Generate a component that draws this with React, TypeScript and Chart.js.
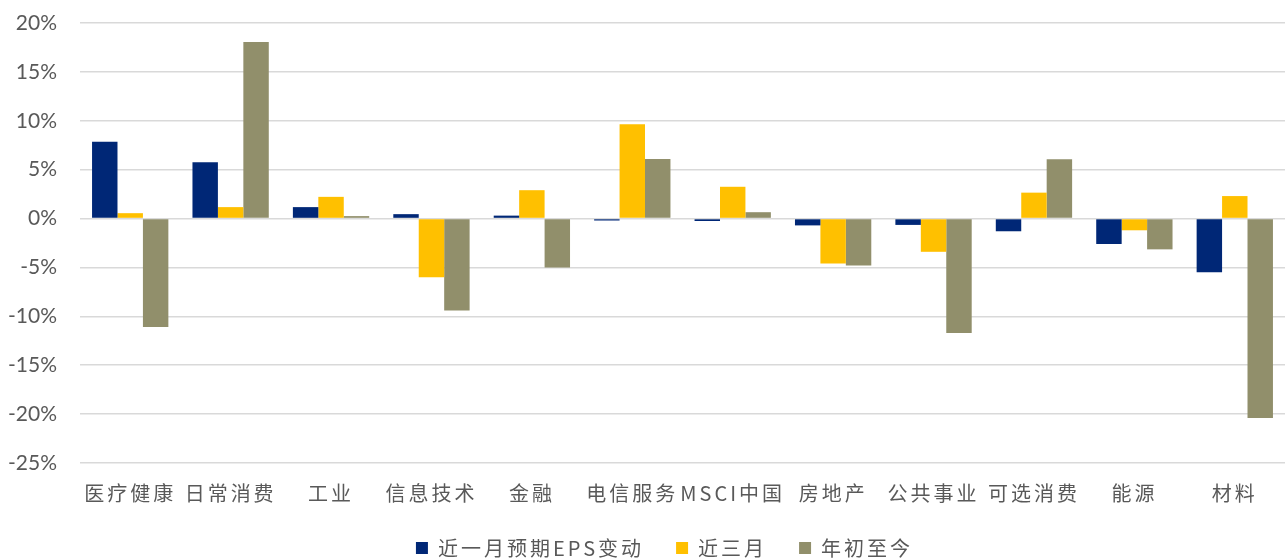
import React, { useEffect, useRef } from "react";
import { Chart, registerables } from "chart.js";

Chart.register(...registerables);

// Sector names along the x axis
const categories: string[] = [
  "医疗健康",
  "日常消费",
  "工业",
  "信息技术",
  "金融",
  "电信服务",
  "MSCI中国",
  "房地产",
  "公共事业",
  "可选消费",
  "能源",
  "材料",
];

// EPS forecast changes, in percent
const lastMonth: number[] = [7.85, 5.77, 1.17, 0.45, 0.3, -0.2, -0.25, -0.7, -0.65, -1.3, -2.6, -5.5];
const lastThreeMonths: number[] = [0.55, 1.17, 2.22, -6.0, 2.9, 9.65, 3.25, -4.6, -3.4, 2.65, -1.2, 2.3];
const yearToDate: number[] = [-11.1, 18.05, 0.25, -9.4, -5.0, 6.1, 0.65, -4.8, -11.7, 6.07, -3.15, -20.4];

const seriesNames: string[] = ["近一月预期EPS变动", "近三月", "年初至今"];

const yMin = -25;
const yMax = 20;
const yStep = 5;

const colors = ["#002776", "#FFC000", "#918F6B"];
const textColor = "#595959";
const gridColor = "#D9D9D9";
const cjkFont = "'Noto Sans CJK SC', 'Noto Sans', sans-serif";
const numFont = "Lato, 'Noto Sans', sans-serif";
const cjkSpacing = "3px";
const legendShift = 22;

export default function App() {
  const canvasRef = useRef<HTMLCanvasElement | null>(null);

  useEffect(() => {
    document.body.style.margin = "0";
    const canvas = canvasRef.current;
    if (!canvas) return;

    const series = [lastMonth, lastThreeMonths, yearToDate];
    const chart = new Chart(canvas, {
      type: "bar",
      data: {
        labels: categories,
        datasets: series.map((values, i) => ({
          label: seriesNames[i],
          data: values,
          backgroundColor: colors[i],
          borderWidth: 0,
          categoryPercentage: 0.76,
          barPercentage: 1,
        })),
      },
      options: {
        responsive: false,
        animation: false,
        maintainAspectRatio: false,
        layout: { padding: { top: 23, right: 0, bottom: 0, left: 0 } },
        plugins: {
          tooltip: { enabled: false },
          legend: {
            position: "bottom",
            labels: {
              color: textColor,
              font: { family: cjkFont, size: 20 },
              boxWidth: 12,
              boxHeight: 12,
              padding: 32,
            },
          },
        },
        scales: {
          x: {
            afterFit: (scale: any) => {
              scale.height = 43;
            },
            grid: { display: false, drawTicks: false },
            border: { display: false },
            ticks: {
              color: textColor,
              font: { family: cjkFont, size: 20 },
              padding: 18,
              autoSkip: false,
              maxRotation: 0,
              minRotation: 0,
            },
          },
          y: {
            min: yMin,
            max: yMax,
            afterFit: (scale: any) => {
              scale.width = 80;
              scale.paddingTop = 0;
              scale.paddingBottom = 0;
            },
            grid: { color: gridColor, lineWidth: 1.5, drawTicks: false },
            border: { display: false },
            ticks: {
              stepSize: yStep,
              color: textColor,
              font: { family: numFont, size: 21 },
              padding: 23,
              callback: (v: any) => `${v}%`,
            },
          },
        },
      },
    });

    // Chinese labels are set with a little extra letter spacing
    const ctx: any = chart.ctx;
    const spaced = (fn: any, dx = 0) =>
      function (this: any, ...args: any[]) {
        const prev = ctx.letterSpacing;
        ctx.save();
        ctx.translate(dx, 0);
        ctx.letterSpacing = cjkSpacing;
        try {
          return fn.apply(this, args);
        } finally {
          ctx.restore();
          ctx.letterSpacing = prev;
        }
      };
    const xScale: any = chart.scales.x;
    xScale.drawLabels = spaced(xScale.drawLabels);
    const legend: any = (chart as any).legend;
    if (legend) {
      const fitLegend = spaced(legend.fit);
      legend.fit = function (this: any) {
        fitLegend.call(this);
        this.height -= 10;
      };
      legend.draw = spaced(legend.draw, legendShift);
    }
    chart.update();

    return () => chart.destroy();
  }, []);

  return (
    <div style={{ width: 1285, height: 558 }}>
      <canvas ref={canvasRef} width={1285} height={558} style={{ display: "block" }} />
    </div>
  );
}
